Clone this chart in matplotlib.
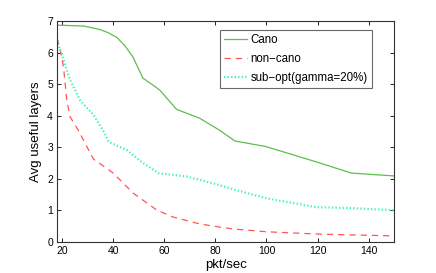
import numpy as np
import matplotlib
matplotlib.use("Agg")
import matplotlib.pyplot as plt

plt.rcParams['font.family'] = ['Liberation Sans', 'DejaVu Sans']

# Cano
cano_x = [18, 28.5, 34.8, 38, 41.4, 44.5, 47.7, 49.8, 51.6, 55, 58.2, 64.8, 73.8, 81.6, 87.6, 99.8, 119.3, 133.3, 150]
cano_y = [6.87, 6.84, 6.73, 6.63, 6.48, 6.22, 5.86, 5.5, 5.19, 5.0, 4.81, 4.2, 3.92, 3.54, 3.2, 3.02, 2.54, 2.18, 2.09]

# non-cano
noncano_x = [18, 19.2, 20.5, 21.8, 23.1, 26.3, 31, 32.3, 40, 47.7, 57, 63.3, 73.8, 81.6, 86.9, 100, 119.5, 133.5, 150]
noncano_y = [6.45, 6.08, 5.55, 4.49, 3.96, 3.54, 2.81, 2.62, 2.18, 1.55, 1.01, 0.79, 0.57, 0.47, 0.41, 0.32, 0.25, 0.22, 0.19]

# sub-opt(gamma=20%)
subopt_x = [18, 18.5, 19.8, 21.8, 23.1, 27, 32.3, 36.2, 38.2, 45.3, 51.8, 57.7, 68.9, 81.6, 86.9, 100, 119.5, 133.5, 150]
subopt_y = [6.4, 6.23, 5.97, 5.44, 5.13, 4.49, 4.02, 3.5, 3.17, 2.91, 2.49, 2.18, 2.07, 1.8, 1.67, 1.38, 1.1, 1.07, 1.0]

fig = plt.figure(figsize=(4.36, 2.73), dpi=100)
ax = fig.add_axes([0.131, 0.114, 0.773, 0.809])

ax.plot(cano_x, cano_y, color='#5cc04a', lw=0.9, label='Cano')
ax.plot(noncano_x, noncano_y, color='#ff5555', lw=0.9, ls=(0, (5, 4)), label='non\u2212cano')
ax.plot(subopt_x, subopt_y, color='#3cf5b0', lw=1.6, ls=(0, (0.6, 1.0)), label='sub\u2212opt(gamma=20%)')

ax.set_xlim(18, 150)
ax.set_ylim(0, 7)
ax.set_xticks([20, 40, 60, 80, 100, 120, 140])
ax.set_yticks(range(8))
ax.tick_params(direction='in', top=True, right=True, labelsize=7.5, length=3, width=0.6, pad=3)
for s in ax.spines.values():
    s.set_linewidth(0.8)
    s.set_color('#333333')

ax.set_xlabel('pkt/sec', fontsize=9.5, labelpad=2)
ax.set_ylabel('Avg useful layers', fontsize=9.5, labelpad=4)

leg = ax.legend(loc='upper right', bbox_to_anchor=(0.95, 0.985), fontsize=8.3, frameon=True,
                fancybox=False, edgecolor='#444444', handlelength=2.0, handletextpad=0.3,
                borderpad=0.35, labelspacing=0.6)
leg.get_frame().set_linewidth(0.8)

fig.savefig('out.png', dpi=100)
